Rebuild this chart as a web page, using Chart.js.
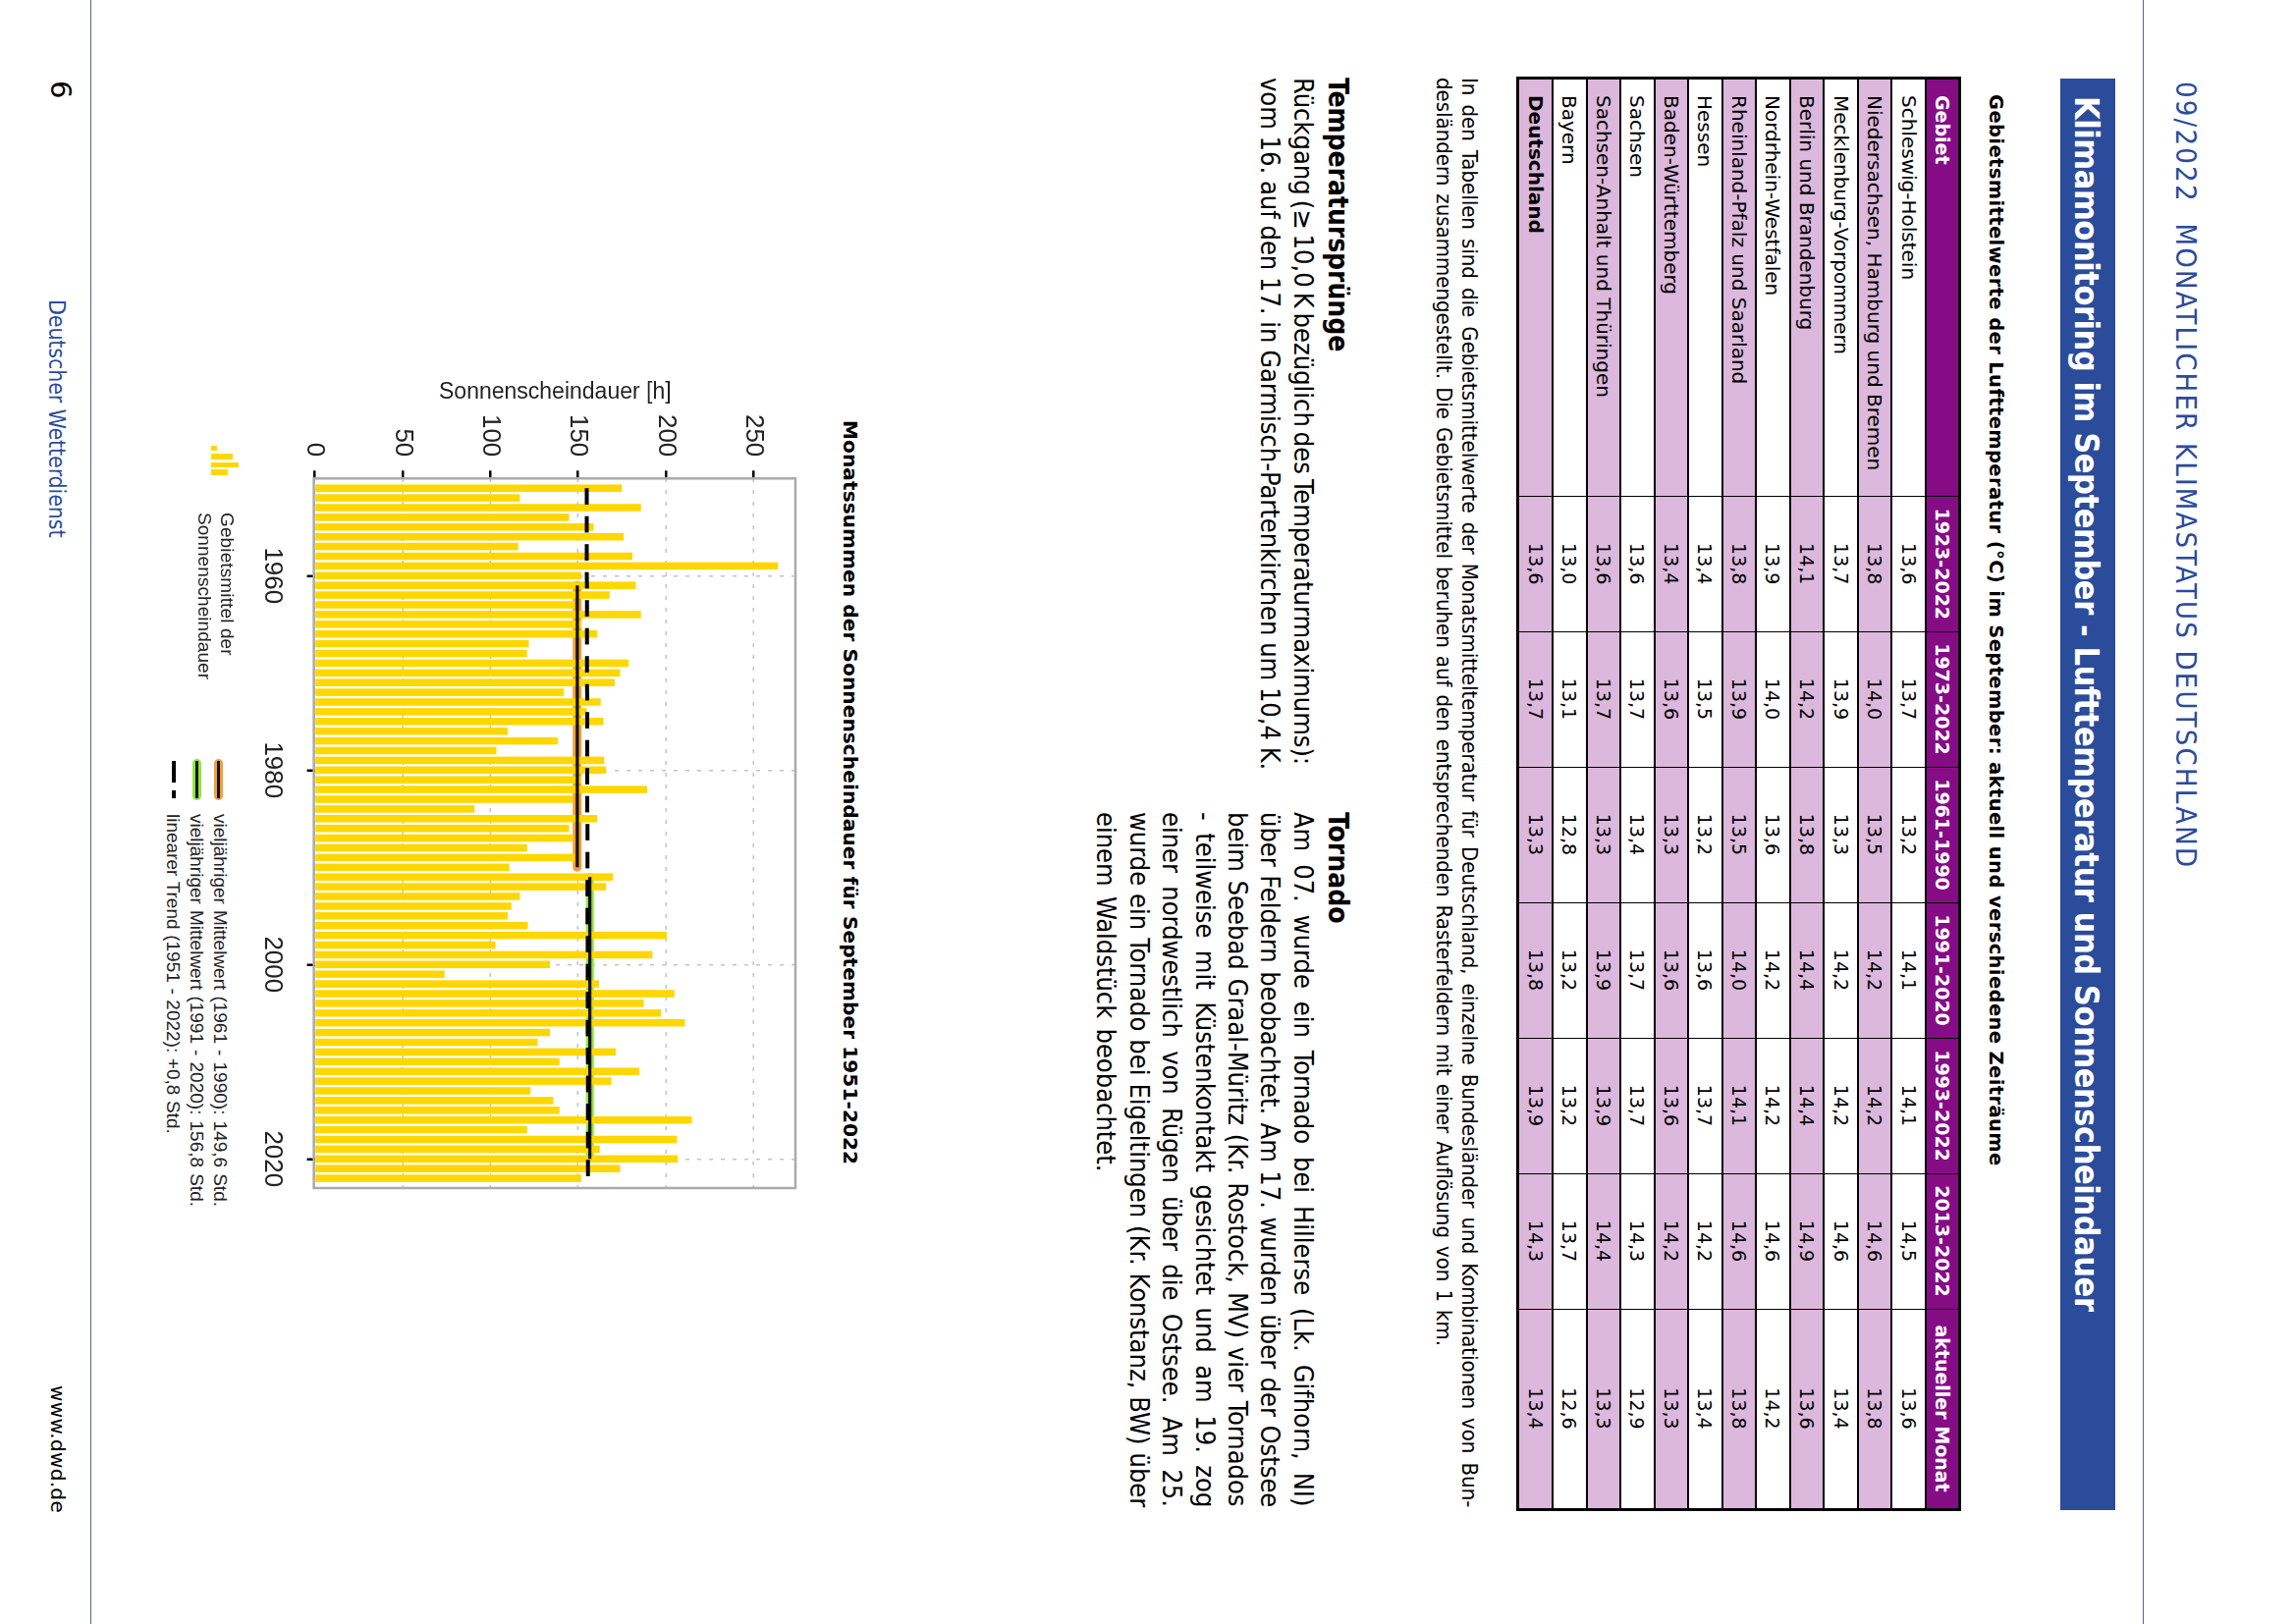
<!DOCTYPE html>
<html lang="de">
<head>
<meta charset="utf-8">
<title>Klimamonitoring September 2022</title>
<script src="https://cdn.jsdelivr.net/npm/chart.js@4"></script>
<style>
html, body { margin: 0; padding: 0; background: #fff; overflow: hidden; width: 2336px; height: 1654px; }
/* the whole page is a portrait sheet turned by 90 degrees */
#page { position: absolute; left: 0; top: 0; width: 1654px; height: 2336px; background: #fff;
  transform-origin: 0 0; transform: translateX(2336px) rotate(90deg); overflow: hidden; }
.t { position: absolute; white-space: nowrap; line-height: 1; color: #000; }
.dv { font-family: "DejaVu Sans", sans-serif; }
.cd { font-family: "DejaVu Sans Condensed", "DejaVu Sans", sans-serif; font-stretch: condensed; }
.lb { font-family: "Liberation Sans", sans-serif; color: #222; }
.b { font-weight: bold; }
.blue { color: #2b4b9b; }
.rule { position: absolute; left: 0; width: 1654px; height: 1.5px; background: #56667f; }
.box { position: absolute; }
#tbl { position: absolute; left: 78px; top: 338.6px; width: 1457px; height: 453px; border-collapse: collapse;
  table-layout: fixed; border: 3px solid #000; font-family: "DejaVu Sans", sans-serif; font-size: 19px; }
#tbl td, #tbl th { border-top: 2.5px solid #000; border-bottom: 2.5px solid #000; border-left: 1.5px solid #000;
  border-right: 1.5px solid #000; padding: 0; height: 32px; text-align: center; font-weight: normal; white-space: nowrap; }
#tbl th { background: #850c85; color: #fff; font-weight: bold; font-size: 19px; }
#tbl .first { text-align: left; padding-left: 16px; }
#tbl td.first { font-size: 20px; }
#tbl tr.alt td { background: #dcb8dc; }
#tbl tr.total td.first { font-weight: bold; }
#chartBox { position: absolute; left: 380px; top: 1500px; width: 850px; height: 600px; }
</style>
</head>
<body>
<div id="page">
  <div class="rule" style="top:152.5px"></div>
  <div class="rule" style="top:2242.5px"></div>
  <div class="box" style="left:80px;top:181.7px;width:1458px;height:56.5px;background:#2b4b9b"></div>
  <table id="tbl"></table>
  <div id="chartBox"><canvas id="sun_chart" width="850" height="600"></canvas></div>
  <!-- legend keys -->
  <div class="box" style="left:454px;top:2115px;width:5px;height:6px;background:#ffd700"></div>
  <div class="box" style="left:462px;top:2099px;width:6px;height:22px;background:#ffd700"></div>
  <div class="box" style="left:471px;top:2093px;width:5px;height:28px;background:#ffd700"></div>
  <div class="box" style="left:478px;top:2104px;width:6px;height:17px;background:#ffd700"></div>
  <div class="box" style="left:773px;top:2108.5px;width:42px;height:9px;background:#f2a03c;border-radius:5px"></div>
  <div class="box" style="left:775px;top:2111.5px;width:38px;height:3px;background:#111"></div>
  <div class="box" style="left:773px;top:2131px;width:42px;height:9px;background:#8fe63c;border-radius:5px"></div>
  <div class="box" style="left:775px;top:2134px;width:38px;height:3px;background:#111"></div>
  <div class="box" style="left:775px;top:2157px;width:22px;height:4px;background:#000"></div>
  <div class="box" style="left:805px;top:2157px;width:8px;height:4px;background:#000"></div>
</div>
<script>
// === table values ===
const tablePeriods = ['1923-2022', '1973-2022', '1961-1990', '1991-2020', '1993-2022', '2013-2022', 'aktueller Monat'];
const tableRegions = ['Schleswig-Holstein', 'Niedersachsen, Hamburg und Bremen', 'Mecklenburg-Vorpommern', 'Berlin und Brandenburg',
    'Nordrhein-Westfalen', 'Rheinland-Pfalz und Saarland', 'Hessen', 'Baden-Württemberg', 'Sachsen',
    'Sachsen-Anhalt und Thüringen', 'Bayern', 'Deutschland'];
const values1923 = ['13,6', '13,8', '13,7', '14,1', '13,9', '13,8', '13,4', '13,4', '13,6', '13,6', '13,0', '13,6'];
const values1973 = ['13,7', '14,0', '13,9', '14,2', '14,0', '13,9', '13,5', '13,6', '13,7', '13,7', '13,1', '13,7'];
const values1961 = ['13,2', '13,5', '13,3', '13,8', '13,6', '13,5', '13,2', '13,3', '13,4', '13,3', '12,8', '13,3'];
const values1991 = ['14,1', '14,2', '14,2', '14,4', '14,2', '14,0', '13,6', '13,6', '13,7', '13,9', '13,2', '13,8'];
const values1993 = ['14,1', '14,2', '14,2', '14,4', '14,2', '14,1', '13,7', '13,6', '13,7', '13,9', '13,2', '13,9'];
const values2013 = ['14,5', '14,6', '14,6', '14,9', '14,6', '14,6', '14,2', '14,2', '14,3', '14,4', '13,7', '14,3'];
const valuesMonth = ['13,6', '13,8', '13,4', '13,6', '14,2', '13,8', '13,4', '13,3', '12,9', '13,3', '12,6', '13,4'];

// === chart values ===
const years = [1951, 1952, 1953, 1954, 1955, 1956, 1957, 1958, 1959, 1960,
    1961, 1962, 1963, 1964, 1965, 1966, 1967, 1968, 1969, 1970,
    1971, 1972, 1973, 1974, 1975, 1976, 1977, 1978, 1979, 1980,
    1981, 1982, 1983, 1984, 1985, 1986, 1987, 1988, 1989, 1990,
    1991, 1992, 1993, 1994, 1995, 1996, 1997, 1998, 1999, 2000,
    2001, 2002, 2003, 2004, 2005, 2006, 2007, 2008, 2009, 2010,
    2011, 2012, 2013, 2014, 2015, 2016, 2017, 2018, 2019, 2020,
    2021, 2022];
const sunshine = [175, 117, 186, 145, 159, 176, 116, 181, 264, 152,
    183, 168, 148, 186, 152, 161, 122, 121, 179, 174,
    171, 142, 163, 155, 164.5, 110, 138.5, 103.5, 165, 166,
    152, 189.5, 147, 91, 161, 145, 147, 121, 148, 111,
    170, 166, 117, 112, 110, 121.5, 200.7, 103, 192.5, 134,
    74, 162, 205, 187.5, 197.5, 211, 134, 127, 171.5, 139.5,
    185, 169, 123, 136, 139.5, 215, 121, 206.5, 162.5, 207,
    174, 152];
const mean6190 = [{x: 1961, y: 149.6}, {x: 1990, y: 149.6}];
const mean9120 = [{x: 1991, y: 156.8}, {x: 2020, y: 156.8}];
const trend = [{x: 1951, y: 155.0}, {x: 2022, y: 155.8}];
const yearTicks = [1960, 1980, 2000, 2020];
const hourTicks = [0, 50, 100, 150, 200, 250];

// === texts ===
const noteLines = ['In den Tabellen sind die Gebietsmittelwerte der Monatsmitteltemperatur für Deutschland, einzelne Bundesländer und Kombinationen von Bun-',
    'desländern zusammengestellt. Die Gebietsmittel beruhen auf den entsprechenden Rasterfeldern mit einer Auflösung von 1 km.'];
const tempLines = ['Rückgang (≥ 10,0 K bezüglich des Temperaturmaximums):',
    'vom 16. auf den 17. in Garmisch-Partenkirchen um 10,4 K.'];
const tornadoLines = ['Am 07. wurde ein Tornado bei Hillerse (Lk. Gifhorn, NI)',
    'über Feldern beobachtet. Am 17. wurden über der Ostsee',
    'beim Seebad Graal-Müritz (Kr. Rostock, MV) vier Tornados',
    '- teilweise mit Küstenkontakt gesichtet und am 19. zog',
    'einer nordwestlich von Rügen über die Ostsee. Am 25.',
    'wurde ein Tornado bei Eigeltingen (Kr. Konstanz, BW) über',
    'einem Waldstück beobachtet.'];

const page = document.getElementById('page');

// puts one line of text on the page by its baseline, stretched to width w if given
function addText(str, left, baseline, size, cls, w, mode) {
    const el = document.createElement('div');
    el.className = 't ' + cls;
    el.textContent = str;
    el.style.left = left + 'px';
    el.style.top = (baseline - 0.846 * size) + 'px';
    el.style.fontSize = size + 'px';
    page.appendChild(el);
    if (w) {
        const extra = w - el.offsetWidth;
        if (mode === 'word') {
            el.style.wordSpacing = (extra / (str.split(' ').length - 1)) + 'px';
        } else {
            el.style.letterSpacing = (extra / (str.length - 1)) + 'px';
        }
    }
    return el;
}

addText('09/2022\u00a0\u00a0MONATLICHER KLIMASTATUS DEUTSCHLAND', 83, 120.5, 29, 'cd blue', 800);
addText('Klimamonitoring im September - Lufttemperatur und Sonnenscheindauer', 98, 223, 34, 'cd b', 1238).style.color = '#fff';
addText('Gebietsmittelwerte der Lufttemperatur (°C) im September: aktuell und verschiedene Zeiträume', 96, 310.4, 19.5, 'dv b', 1091);
addText(noteLines[0], 79, 848, 22, 'cd', 1456, 'word');
addText(noteLines[1], 79, 874, 22, 'cd', 1292, 'word');
addText('Temperatursprünge', 79, 984, 28, 'cd b', 279);
addText(tempLines[0], 79, 1018, 27, 'cd', 700, 'word');
addText(tempLines[1], 79, 1052, 27, 'cd', 705, 'word');
addText('Tornado', 827, 984, 28, 'cd b', 113);
tornadoLines.forEach(function (line, i) {
    addText(line, 827, 1018 + i * 33.4, 27, 'cd', i < 6 ? 708 : 366, 'word');
});
addText('Monatssummen der Sonnenscheindauer für September 1951-2022', 428, 1477, 20, 'dv b', 758);
addText('Gebietsmittel der', 522, 2111, 19, 'lb', 146);
addText('Sonnenscheindauer', 522, 2134, 19, 'lb', 170);
addText('vieljähriger Mittelwert (1961 - 1990): 149,6 Std.', 829, 2118, 19, 'lb', 400, 'word');
addText('vieljähriger Mittelwert (1991 - 2020): 156,8 Std.', 829, 2142, 19, 'lb', 400, 'word');
addText('linearer Trend (1951 - 2022): +0,8 Std.', 829, 2166, 19, 'lb', 326, 'word');
addText('6', 82, 2285, 29, 'dv');
addText('Deutscher Wetterdienst', 305, 2286, 23, 'cd blue', 243);
addText('www.dwd.de', 1411, 2284, 20, 'dv', 130);

// === table ===
const columns = [values1923, values1973, values1961, values1991, values1993, values2013, valuesMonth];
const columnWidths = [426, 137.5, 138, 138, 138, 138, 138, 204];
let html = '<colgroup>' + columnWidths.map(function (w) { return '<col style="width:' + w + 'px">'; }).join('') + '</colgroup>';
html += '<tr><th class="first">Gebiet</th>' + tablePeriods.map(function (p) { return '<th>' + p + '</th>'; }).join('') + '</tr>';
tableRegions.forEach(function (region, r) {
    let cls = r % 2 === 1 ? 'alt' : '';
    if (region === 'Deutschland') cls += ' total';
    html += '<tr class="' + cls + '"><td class="first">' + region + '</td>';
    columns.forEach(function (col) { html += '<td>' + col[r] + '</td>'; });
    html += '</tr>';
});
document.getElementById('tbl').innerHTML = html;

// === chart ===
const tickFont = { family: '"Liberation Sans Narrow", "Liberation Sans", sans-serif', size: 26 };

const plotBox = {
    id: 'plotBox',
    afterDatasetsDraw: function (chart) {
        const a = chart.chartArea, ctx = chart.ctx;
        ctx.save();
        ctx.strokeStyle = '#aaaaaa';
        ctx.lineWidth = 2.5;
        ctx.strokeRect(a.left, a.top, a.right - a.left, a.bottom - a.top + 1);
        ctx.restore();
    }
};

const SunConfig = {
    type: 'bar',
    data: {
        labels: years,
        datasets: [
            { type: 'line', data: mean6190, borderColor: '#f2a03c', borderWidth: 9, borderCapStyle: 'round', pointRadius: 0, order: 5 },
            { type: 'line', data: mean9120, borderColor: '#8fe63c', borderWidth: 8, borderCapStyle: 'round', pointRadius: 0, order: 5 },
            { type: 'bar', label: 'Gebietsmittel der Sonnenscheindauer',
              data: years.map(function (y, i) { return { x: y, y: sunshine[i] }; }),
              backgroundColor: '#ffd700', categoryPercentage: 1, barPercentage: 0.76, order: 4 },
            { type: 'line', data: mean6190, borderColor: '#111111', borderWidth: 3.3, pointRadius: 0, order: 3 },
            { type: 'line', data: mean9120, borderColor: '#111111', borderWidth: 3.3, pointRadius: 0, order: 2 },
            { type: 'line', label: 'linearer Trend', data: trend, borderColor: '#000000', borderWidth: 4,
              borderDash: [16.7, 11.8], pointRadius: 0, order: 1 }
        ]
    },
    options: {
        responsive: false,
        animation: false,
        devicePixelRatio: 1,
        layout: { padding: { top: 26, right: 20, bottom: 0, left: 0 } },
        plugins: { legend: { display: false }, tooltip: { enabled: false } },
        scales: {
            x: {
                type: 'linear', min: 1950, max: 2023, offset: false,
                afterBuildTicks: function (scale) { scale.ticks = yearTicks.map(function (v) { return { value: v }; }); },
                afterFit: function (scale) {
                    scale.height = 84.6;
                    scale.paddingLeft = 0;
                    scale.paddingRight = 0;
                },
                grid: { offset: false, color: '#c4c4c4', lineWidth: 1.5, tickColor: '#000', tickWidth: 2.5, tickLength: 8 },
                border: { display: false, dash: [4, 8] },
                ticks: { font: tickFont, color: '#222', maxRotation: 0, autoSkip: false, padding: 20,
                    callback: function (v) { return String(v); } }
            },
            y: {
                min: 0, max: 274,
                afterBuildTicks: function (scale) { scale.ticks = hourTicks.map(function (v) { return { value: v }; }); },
                afterFit: function (scale) {
                    scale.width = 107.3;
                    scale.paddingTop = 0;
                    scale.paddingBottom = 0;
                },
                grid: { color: '#c4c4c4', lineWidth: 1.5, tickColor: '#000', tickWidth: 2.5, tickLength: 8 },
                border: { display: false, dash: [4, 8] },
                ticks: { font: tickFont, color: '#222', padding: 14, autoSkip: false,
                    callback: function (v) { return String(v); } },
                title: { display: true, text: 'Sonnenscheindauer [h]', color: '#222', padding: { top: 6, bottom: 0 },
                    font: { family: '"Liberation Sans", sans-serif', size: 23 } }
            }
        }
    },
    plugins: [plotBox]
};

// === display chart ===
var sunChart = new Chart(document.getElementById('sun_chart'), SunConfig);
</script>
</body>
</html>
